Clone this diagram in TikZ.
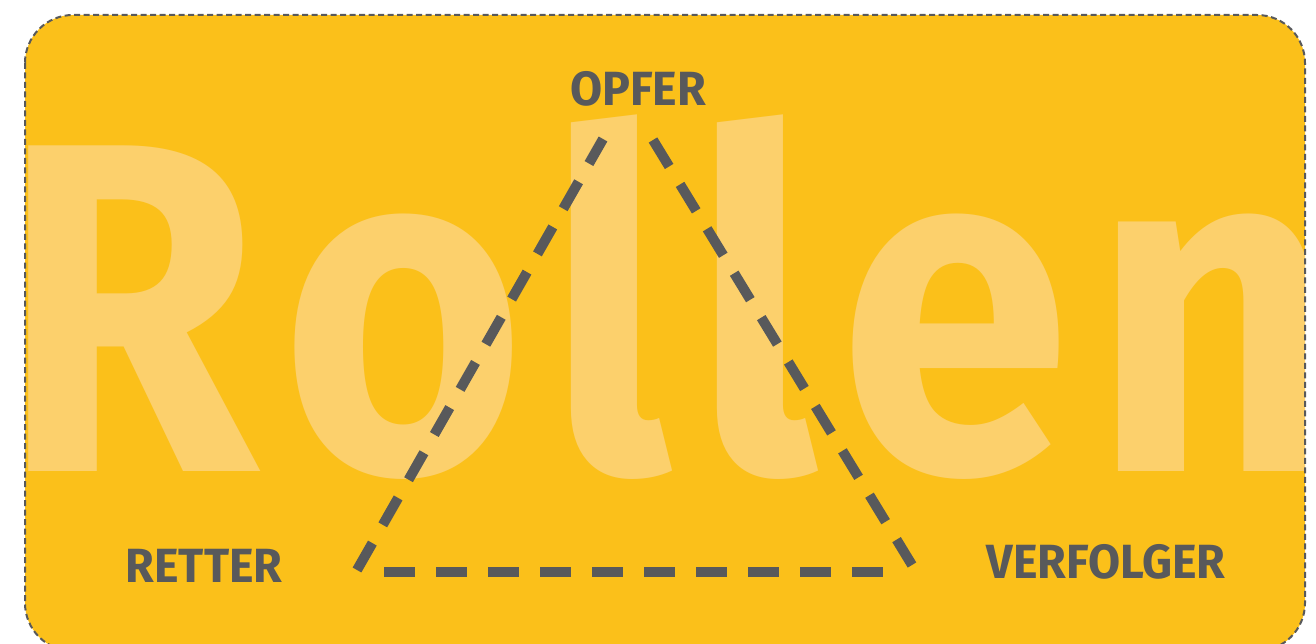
\documentclass[tikz,border=0pt]{standalone}
\usepackage{fontspec}
\setmainfont{Fira Sans}
\newfontfamily\wmfont[FakeStretch=0.89]{Fira Sans}
\newfontfamily\rolefont[FakeStretch=0.97]{Fira Sans}
\definecolor{boxfill}{RGB}{251,192,26}
\definecolor{wmark}{RGB}{252,208,108}
\definecolor{ink}{RGB}{88,89,91}
\tikzset{
  frameline/.style={draw=ink, line width=2pt, dash pattern=on 6pt off 3.5pt, rounded corners=48pt},
  side/.style={draw=ink, line width=10pt, dash pattern=on 31pt off 21pt},
  role/.style={text=ink, font=\rolefont\fontsize{48}{48}\selectfont\bfseries, inner sep=0pt},
  watermark/.style={text=wmark, font=\wmfont\fontsize{470}{470}\selectfont\bfseries, inner sep=0pt, anchor=base west}
}
\newcommand{\wk}{\kern22pt}
\begin{document}
\begin{tikzpicture}[x=1pt,y=-1pt]
\useasboundingbox (0,0) rectangle (1316,644);
\path[fill=boxfill, rounded corners=48pt] (25,15) rectangle (1305,651);
\begin{scope}
  \clip[rounded corners=48pt] (26,16) rectangle (1304,650);
  \node[watermark] (wm) at (1,471) {R\wk o\wk l\wk l\wk e\wk n};
\end{scope}
\path[frameline] (25,15) rectangle (1305,651);
\coordinate (l1) at (357,570);
\coordinate (l2) at (603,139);
\coordinate (r1) at (653,140);
\coordinate (r2) at (912,565);
\coordinate (b1) at (384,572);
\coordinate (b2) at (883,572);
\draw[side] (l1) -- (l2);
\draw[side] (r1) -- (r2);
\draw[side] (b1) -- (b2);
\node[role] (opfer) at (638,88.5) {OPFER};
\node[role] (retter) at (204,566) {RETTER};
\node[role] (verfolger) at (1106,562) {VERFOLGER};
\end{tikzpicture}
\end{document}
